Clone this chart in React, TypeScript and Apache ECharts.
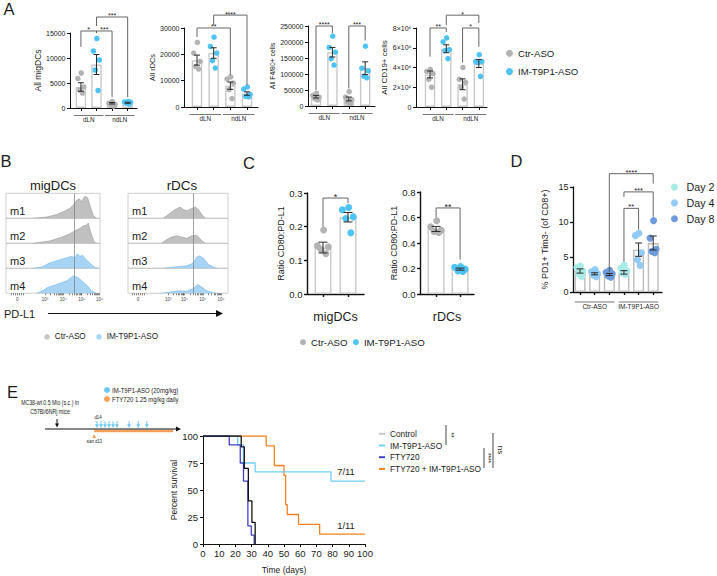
import React, { useEffect, useRef } from "react";
import * as echarts from "echarts";

const FONT = "'Liberation Sans', Arial, Helvetica, sans-serif";
const INK = "#1c1c1c";
const AXIS = "#111111";
const CTR_COLOR = "#b3b3b3";
const IM_COLOR = "#4ec3f4";
const BAR_EDGE = "#c9c9c9";
const HIST_GRAY = { fill: "#c0c0c0", line: "#9d9d9d" };
const HIST_BLUE = { fill: "#a7d4f5", line: "#79b9ea" };
const DAY_COLORS = ["#a9ebe7", "#92cbf6", "#6d9bdc"];

// ---------------- Panel A ----------------
const A_GROUPS = ["dLN", "ndLN"];
const TREATMENTS = ["Ctr-ASO", "IM-T9P1-ASO"];

const MIGDC_MEAN = [4200, 8700, 950, 1050];
const MIGDC_SEM = [850, 2000, 150, 100];
const MIGDC_PTS = [
  [7000, 5900, 4200, 3600, 3000],
  [13900, 11400, 9600, 7600, 3500],
  [1300, 950, 750, 600, 400],
  [1300, 1200, 1150, 950, 800],
];
const MIGDC_BRACKETS = [
  [0, 1, 15400, 12200, 15000, "*"],
  [1, 2, 15400, 15000, 2200, "***"],
  [1, 3, 18200, 16400, 2200, "***"],
];

const RDC_MEAN = [17800, 20500, 8100, 5100];
const RDC_SEM = [1900, 2000, 1400, 650];
const RDC_PTS = [
  [24500, 20500, 17300, 15400, 14400],
  [26500, 23000, 20500, 17600, 14800],
  [11400, 10600, 9100, 6600, 3200],
  [7600, 6800, 4700, 4000, 3800],
];
const RDC_BRACKETS = [
  [0, 2, 30000, 26600, 12200, "**"],
  [1, 3, 34900, 31100, 8400, "****"],
];

const F480_MEAN = [29000, 168000, 22000, 118000];
const F480_SEM = [4000, 15000, 6000, 20000];
const F480_PTS = [
  [40000, 33000, 28000, 23000, 19000],
  [218000, 183000, 168000, 148000, 128000],
  [45000, 28000, 20000, 12000, 8000],
  [187000, 118000, 110000, 93000, 88000],
];
const F480_BRACKETS = [
  [0, 1, 250000, 50000, 228000, "****"],
  [2, 3, 250000, 55000, 205000, "***"],
];

const CD19_MEAN = [3.3e6, 5.9e6, 2.3e6, 4.4e6];
const CD19_SEM = [0.35e6, 0.4e6, 0.55e6, 0.4e6];
const CD19_PTS = [
  [3.8e6, 3.6e6, 3.4e6, 2.8e6, 2.0e6],
  [7.0e6, 6.6e6, 5.8e6, 5.7e6, 4.9e6],
  [4.0e6, 2.8e6, 2.5e6, 2.0e6, 0.8e6],
  [5.3e6, 4.6e6, 4.6e6, 4.5e6, 3.1e6],
];
const CD19_BRACKETS = [
  [0, 1, 8.0e6, 5.1e6, 7.6e6, "**"],
  [1, 3, 9.3e6, 8.3e6, 8.5e6, "*"],
  [2, 3, 8.0e6, 4.5e6, 6.1e6, "*"],
];

// ---------------- Panel B (histograms, PD-L1 position 0..100 across box) ----------------
const HIST_SAMPLES = ["m1", "m2", "m3", "m4"];
const HIST_TREAT = [0, 0, 1, 1];
const LOG_LABELS = ["0", "10³", "10⁴", "10⁵", "10⁶"];
const MIG_M1 = [[29, 0], [43, 0.05], [54, 0.15], [63, 0.3], [68, 0.4], [72, 0.55], [75, 0.72], [78, 0.78], [80.5, 0.66], [83, 0.84], [85, 0.88], [87, 0.8], [89.5, 0.5], [93, 0.1], [96.5, 0]];
const MIG_M2 = [[29, 0], [47, 0.1], [57.4, 0.22], [66.3, 0.35], [73.4, 0.5], [78.7, 0.6], [82.3, 0.7], [85.1, 0.72], [87.6, 0.8], [90.1, 0.45], [93.6, 0.05], [96.5, 0]];
const MIG_M3 = [[29, 0], [37.9, 0.05], [46.8, 0.22], [55.7, 0.32], [64.5, 0.42], [69.9, 0.48], [73.4, 0.42], [75.9, 0.58], [78.7, 0.48], [81.6, 0.52], [85.1, 0.35], [89.4, 0.2], [94.7, 0.03], [98.2, 0]];
const MIG_M4 = [[32.6, 0], [39.7, 0.12], [45, 0.25], [50.4, 0.3], [55.7, 0.38], [61, 0.45], [64.5, 0.5], [68.8, 0.62], [71.6, 0.7], [77, 0.62], [82.3, 0.45], [86.5, 0.3], [91.1, 0.1], [96.5, 0]];
const RDC_M1 = [[35.2, 0], [40.3, 0.15], [47, 0.35], [52, 0.45], [55.4, 0.35], [59.4, 0.3], [63.8, 0.4], [67.1, 0.45], [70.5, 0.35], [73.8, 0.15], [77.2, 0]];
const RDC_M2 = [[33.6, 0], [38.6, 0.15], [43.6, 0.25], [48.7, 0.3], [53.7, 0.25], [58.7, 0.2], [63.8, 0.3], [68.8, 0.32], [73.8, 0.1], [77.2, 0]];
const RDC_M3 = [[35.2, 0], [45.3, 0.05], [58.7, 0.1], [64.8, 0.2], [68.8, 0.45], [71.5, 0.5], [75.5, 0.4], [80.5, 0.15], [85.6, 0.05], [88.9, 0]];
const RDC_M4 = [[31.9, 0], [41.9, 0.05], [50.3, 0.1], [58.7, 0.08], [65.4, 0.2], [69.8, 0.35], [73.8, 0.25], [78.9, 0.1], [85.6, 0.02], [90.6, 0]];
const MIG_GATE = 72.3;
const RDC_GATE = 65.4;
const MIG_TICK_POS = [12.1, 41.5, 61.0, 80.5, 99.3];
const RDC_TICK_POS = [10.1, 40.3, 56.4, 74.8, 93.0];

// ---------------- Panel C ----------------
const C_MIG_MEAN = [0.138, 0.228];
const C_MIG_SEM = [0.016, 0.014];
const C_MIG_PTS = [[0.19, 0.143, 0.14, 0.133, 0.12], [0.257, 0.25, 0.229, 0.224, 0.182]];
const C_MIG_BRACKETS = [[0, 1, 0.285, 0.2, 0.27, "*"]];
const C_RDC_MEAN = [0.51, 0.195];
const C_RDC_SEM = [0.02, 0.008];
const C_RDC_PTS = [[0.574, 0.527, 0.5, 0.49, 0.483], [0.215, 0.21, 0.195, 0.18, 0.177]];
const C_RDC_BRACKETS = [[0, 1, 0.675, 0.6, 0.27, "**"]];

// ---------------- Panel D ----------------
const D_DAYS = ["Day 2", "Day 4", "Day 8"];
const D_GROUPS = ["Ctr-ASO", "IM-T9P1-ASO"];
const D_MEAN = [3.0, 2.6, 2.5, 2.8, 6.05, 7.0];
const D_SEM = [0.3, 0.15, 0.15, 0.25, 0.95, 1.0];
const D_PTS = [
  [3.7, 3.5, 3.0, 2.6, 2.2],
  [3.2, 2.9, 2.6, 2.4, 2.2],
  [3.1, 2.8, 2.6, 2.3, 2.1],
  [3.8, 3.4, 3.0, 2.7, 2.5],
  [8.4, 8.05, 5.6, 4.6, 3.8],
  [10.2, 7.7, 6.1, 5.8, 5.6],
];
const D_BRACKETS = [
  [2, 5, 16.9, 2.9, 15.5, "****"],
  [3, 5, 14.3, 13.6, 10.75, "***"],
  [3, 4, 11.95, 4.3, 8.9, "**"],
];

// ---------------- Panel E (Kaplan-Meier) ----------------
const KM_CONTROL = [[0, 100], [23.6, 90], [25.5, 70], [28, 40], [30.2, 20], [32.2, 0]];
const KM_IM = [[0, 100], [21.4, 91.7], [25, 75], [32.2, 66.7], [79, 58.3], [100, 58.3]];
const KM_FTY = [[0, 100], [16.2, 91.7], [23, 75], [25, 58.3], [27.7, 16.7], [29.8, 8.3], [31.6, 0]];
const KM_COMBO = [[0, 100], [39, 90.9], [44, 72.7], [50, 63.6], [51, 36.4], [52, 27.3], [59, 18.2], [72, 9.1], [100, 9.1]];
const KM_NAMES = ["Control", "IM-T9P1-ASO", "FTY720", "FTY720 + IM-T9P1-ASO"];
const ASO_DAYS = [14, 15.4, 16.8, 18.2, 19.6, 21, 25.2, 28.4, 31.4];
const FTY_START = 13;
const FTY_END = 40.6;

const JITTER = [0.1, -0.9, 0.85, -0.35, 0.45];

function addBarPanel(s: any, acc: any) {
  const gi = acc.grid.length;
  acc.grid.push({ left: s.grid.left, top: s.grid.top, width: s.grid.width, height: s.grid.height });
  const line = { color: AXIS, width: s.axisWidth };
  acc.xAxis.push({
    gridIndex: gi, type: "value", min: s.xMin, max: s.xMax,
    axisLine: { show: true, onZero: false, lineStyle: line },
    axisTick: { show: true, customValues: s.means.map((_: number, i: number) => i), length: 3, lineStyle: line },
    axisLabel: { show: false }, splitLine: { show: false },
    name: s.xName || "", nameLocation: "middle", nameGap: s.xNameGap || 15,
    nameTextStyle: { fontSize: s.xNameSize || 10, color: INK, fontFamily: FONT },
  });
  acc.yAxis.push({
    gridIndex: gi, type: "value", min: 0, max: s.yMax, interval: s.yStep,
    axisLine: { show: true, onZero: false, lineStyle: line },
    axisTick: { show: true, length: 3, lineStyle: line },
    axisLabel: { fontSize: s.tickSize, color: INK, fontFamily: FONT, margin: 4.5, formatter: s.yFmt },
    splitLine: { show: false },
    name: s.yName, nameLocation: "middle", nameRotate: 90, nameGap: s.yNameGap,
    nameTextStyle: { fontSize: s.yNameSize, color: INK, fontFamily: FONT },
  });
  const ax = { xAxisIndex: gi, yAxisIndex: gi };
  acc.series.push({
    type: "bar", ...ax, data: s.means.map((m: number, i: number) => [i, m]), barWidth: s.barWidth,
    itemStyle: { color: "#ffffff", borderColor: s.barEdge || BAR_EDGE, borderWidth: 1.4 }, z: 1, silent: true,
  });
  s.pointSets.forEach((ps: any) =>
    acc.series.push({
      type: "scatter", name: ps.name, ...ax, symbol: "circle", symbolSize: s.dot,
      itemStyle: { color: ps.color, opacity: 1 },
      data: ps.bars.flatMap((b: number) => s.points[b].map((v: number, j: number) => [b + JITTER[j % JITTER.length] * s.jitter, v])),
      z: 2, silent: true,
    })
  );
  acc.series.push({
    type: "custom", ...ax, z: 4, silent: true, clip: false,
    data: s.means.map((m: number, i: number) => [i, m - s.sems[i], m + s.sems[i]]),
    renderItem: (params: any, api: any) => {
      const x = api.value(0);
      const lo = api.coord([x, api.value(1)]);
      const hi = api.coord([x, api.value(2)]);
      const w = s.cap / 2;
      const st = { stroke: "#2a2a2a", lineWidth: 1 };
      return {
        type: "group",
        children: [
          { type: "line", shape: { x1: lo[0], y1: lo[1], x2: hi[0], y2: hi[1] }, style: st },
          { type: "line", shape: { x1: lo[0] - w, y1: lo[1], x2: lo[0] + w, y2: lo[1] }, style: st },
          { type: "line", shape: { x1: hi[0] - w, y1: hi[1], x2: hi[0] + w, y2: hi[1] }, style: st },
        ],
      };
    },
  });
  acc.series.push({
    type: "custom", ...ax, z: 4, silent: true, clip: false,
    data: s.brackets.map((b: any[]) => [b[0], b[1], b[2], b[3], b[4]]),
    renderItem: (params: any, api: any) => {
      const a = api.value(0);
      const b = api.value(1);
      const top = api.value(2);
      const pa = api.coord([a, api.value(3)]);
      const pb = api.coord([b, api.value(4)]);
      const ta = api.coord([a, top]);
      const tb = api.coord([b, top]);
      return {
        type: "group",
        children: [
          {
            type: "polyline",
            shape: { points: [[pa[0], pa[1]], [ta[0], ta[1]], [tb[0], tb[1]], [pb[0], pb[1]]] },
            style: { stroke: "#555555", lineWidth: 0.9, fill: "none" },
          },
          {
            type: "text", x: (ta[0] + tb[0]) / 2, y: ta[1] + s.starSize * 0.35,
            style: { text: s.brackets[params.dataIndex][5], fontSize: s.starSize, fontFamily: FONT, fill: INK, align: "center", verticalAlign: "bottom" },
          },
        ],
      };
    },
  });
  if (s.groups) {
    acc.series.push({
      type: "custom", ...ax, z: 4, silent: true, clip: false,
      data: s.groups.map((g: any) => [g.from, g.to]),
      renderItem: (params: any, api: any) => {
        const p0 = api.coord([api.value(0) - s.groupPad, 0]);
        const p1 = api.coord([api.value(1) + s.groupPad, 0]);
        const ly = p0[1] + s.groupOff;
        return {
          type: "group",
          children: [
            { type: "line", shape: { x1: p0[0], y1: ly, x2: p1[0], y2: ly }, style: { stroke: "#555555", lineWidth: 0.8 } },
            {
              type: "text", x: (p0[0] + p1[0]) / 2, y: ly + 1,
              style: { text: s.groups[params.dataIndex].label, fontSize: s.groupSize, fontFamily: FONT, fill: INK, align: "center", verticalAlign: "top" },
            },
          ],
        };
      },
    });
  }
}

function decadeTicks(pos: number[]) {
  const t = [...pos, pos[0] - 6, pos[0] - 4, pos[0] - 2, pos[0] + 2, pos[0] + 4, pos[0] + 6];
  for (let d = 1; d < pos.length - 1; d++) {
    for (let k = 2; k < 10; k++) t.push(pos[d] + Math.log10(k) * (pos[d + 1] - pos[d]));
  }
  return t;
}

function buildOption() {
  const acc: any = { grid: [], xAxis: [], yAxis: [], series: [] };
  const plain = (v: number) => String(v);

  // ----- A -----
  const aCommon = {
    tickSize: 7, axisWidth: 1, barWidth: 10.5, dot: 5.5, cap: 6, starSize: 7, jitter: 0.22,
    groupOff: 7.5, groupSize: 6.3, groupPad: 0.45,
  };
  const aSets = [
    { name: TREATMENTS[0], color: CTR_COLOR, bars: [0, 2] },
    { name: TREATMENTS[1], color: IM_COLOR, bars: [1, 3] },
  ];
  const aGroups = A_GROUPS.map((label, i) => ({ label, from: 2 * i, to: 2 * i + 1 }));
  addBarPanel({ ...aCommon, grid: { left: 70, top: 33, width: 67, height: 75 }, xMin: -0.7, xMax: 3.6, yMax: 15000, yStep: 5000, yFmt: plain, yName: "All migDCs", yNameGap: 24, yNameSize: 8.5, means: MIGDC_MEAN, sems: MIGDC_SEM, points: MIGDC_PTS, pointSets: aSets, brackets: MIGDC_BRACKETS, groups: aGroups }, acc);
  addBarPanel({ ...aCommon, grid: { left: 184, top: 28, width: 74, height: 79 }, xMin: -0.78, xMax: 3.66, yMax: 30000, yStep: 10000, yFmt: plain, yName: "All rDCs", yNameGap: 28, yNameSize: 7.3, means: RDC_MEAN, sems: RDC_SEM, points: RDC_PTS, pointSets: aSets, brackets: RDC_BRACKETS, groups: aGroups }, acc);
  addBarPanel({ ...aCommon, grid: { left: 308, top: 26, width: 67, height: 80 }, xMin: -0.49, xMax: 3.6, yMax: 250000, yStep: 50000, yFmt: plain, yName: "All F4/80+ cells", yNameGap: 32, yNameSize: 6.8, means: F480_MEAN, sems: F480_SEM, points: F480_PTS, pointSets: aSets, brackets: F480_BRACKETS, groups: aGroups }, acc);
  addBarPanel({ ...aCommon, grid: { left: 416, top: 28, width: 71, height: 79 }, xMin: -0.86, xMax: 3.5, yMax: 8e6, yStep: 2e6, yFmt: (v: number) => (v === 0 ? "0" : `${v / 1e6}×10⁶`), yName: "All CD19+ cells", yNameGap: 22, yNameSize: 8, means: CD19_MEAN, sems: CD19_SEM, points: CD19_PTS, pointSets: aSets, brackets: CD19_BRACKETS, groups: aGroups }, acc);

  // ----- B -----
  const boxes = [
    { left: 6, width: 94, rows: [MIG_M1, MIG_M2, MIG_M3, MIG_M4], gate: MIG_GATE, labelAt: MIG_TICK_POS },
    { left: 128, width: 100, rows: [RDC_M1, RDC_M2, RDC_M3, RDC_M4], gate: RDC_GATE, labelAt: RDC_TICK_POS },
  ];
  const HIST_TOP = 193.3;
  const HIST_ROW_H = 25;
  boxes.forEach((box) => {
    box.rows.forEach((row, k) => {
      const gi = acc.grid.length;
      const top = HIST_TOP + k * HIST_ROW_H;
      const last = k === 3;
      acc.grid.push({ left: box.left, top, width: box.width, height: HIST_ROW_H, show: true, borderColor: "#c4c4c4", borderWidth: 0.8 });
      acc.xAxis.push({
        gridIndex: gi, type: "value", min: 0, max: 100,
        axisLine: { show: false },
        axisTick: { show: last, customValues: decadeTicks(box.labelAt), length: 2, lineStyle: { color: "#333", width: 0.6 } },
        axisLabel: {
          show: last, customValues: box.labelAt, fontSize: 4.5, color: "#444", margin: 3.5, fontFamily: FONT,
          formatter: (v: number) => {
            const i = box.labelAt.findIndex((p) => Math.abs(p - v) < 0.01);
            return i >= 0 ? LOG_LABELS[i] : "";
          },
        },
        splitLine: { show: false },
      });
      acc.yAxis.push({ gridIndex: gi, type: "value", min: 0, max: 1, show: false });
      const col = HIST_TREAT[k] === 0 ? HIST_GRAY : HIST_BLUE;
      acc.series.push({
        type: "line", xAxisIndex: gi, yAxisIndex: gi, data: row, showSymbol: false, symbol: "none",
        lineStyle: { color: col.line, width: 0.6 }, areaStyle: { color: col.fill, opacity: 1 }, silent: true, z: 1,
        markLine: { silent: true, symbol: "none", label: { show: false }, lineStyle: { color: "#7a7a7a", width: 0.7, type: "solid" }, data: [{ xAxis: box.gate }] },
      });
    });
  });

  // ----- C -----
  const cCommon = {
    tickSize: 9.5, axisWidth: 1.4, barWidth: 17, dot: 7, cap: 9, starSize: 9, jitter: 0.25,
    yName: "Ratio CD80:PD-L1", yNameGap: 22, yNameSize: 9, xNameGap: 16.5, xNameSize: 12.5,
    pointSets: [
      { name: TREATMENTS[0], color: CTR_COLOR, bars: [0] },
      { name: TREATMENTS[1], color: IM_COLOR, bars: [1] },
    ],
    yFmt: (v: number) => v.toFixed(1),
  };
  addBarPanel({ ...cCommon, grid: { left: 307, top: 193, width: 57, height: 101 }, xMin: -0.64, xMax: 1.64, yMax: 0.3, yStep: 0.1, means: C_MIG_MEAN, sems: C_MIG_SEM, points: C_MIG_PTS, brackets: C_MIG_BRACKETS, xName: "migDCs" }, acc);
  addBarPanel({ ...cCommon, grid: { left: 420, top: 192, width: 54, height: 102 }, xMin: -0.67, xMax: 1.58, yMax: 0.8, yStep: 0.2, means: C_RDC_MEAN, sems: C_RDC_SEM, points: C_RDC_PTS, brackets: C_RDC_BRACKETS, xName: "rDCs" }, acc);

  // ----- D -----
  addBarPanel({
    tickSize: 9, axisWidth: 1.3, barWidth: 11, dot: 7, cap: 7, starSize: 7.5, jitter: 0.24,
    groupOff: 10, groupSize: 6.5, groupPad: 0.35, barEdge: "#bdbdbd",
    grid: { left: 573, top: 187, width: 89, height: 105 }, xMin: -0.48, xMax: 5.6, yMax: 15, yStep: 5,
    yName: "% PD1+ Tim3- (of CD8+)", yNameGap: 24, yNameSize: 9,
    means: D_MEAN, sems: D_SEM, points: D_PTS, brackets: D_BRACKETS,
    pointSets: D_DAYS.map((name, i) => ({ name, color: DAY_COLORS[i], bars: [i, i + 3] })),
    groups: D_GROUPS.map((label, i) => ({ label, from: 3 * i, to: 3 * i + 2 })),
  }, acc);

  // ----- E -----
  const gi = acc.grid.length;
  acc.grid.push({ left: 203, top: 436, width: 162, height: 108 });
  const kmLine = { color: AXIS, width: 1 };
  acc.xAxis.push({
    gridIndex: gi, type: "value", min: 0, max: 100, interval: 10,
    axisLine: { show: true, onZero: false, lineStyle: kmLine }, axisTick: { show: true, length: 3, lineStyle: kmLine },
    axisLabel: { fontSize: 9.5, color: INK, margin: 4.5, fontFamily: FONT }, splitLine: { show: false },
    name: "Time (days)", nameLocation: "middle", nameGap: 21.5, nameTextStyle: { fontSize: 8.5, color: INK, fontFamily: FONT },
  });
  acc.yAxis.push({
    gridIndex: gi, type: "value", min: 0, max: 100, interval: 25,
    axisLine: { show: true, onZero: false, lineStyle: kmLine }, axisTick: { show: true, length: 3, lineStyle: kmLine },
    axisLabel: { fontSize: 9.5, color: INK, margin: 5, fontFamily: FONT }, splitLine: { show: false },
    name: "Percent survival", nameLocation: "middle", nameRotate: 90, nameGap: 21, nameTextStyle: { fontSize: 8.5, color: INK, fontFamily: FONT },
  });
  const kmSeries = [
    { name: KM_NAMES[3], data: KM_COMBO, color: "#f5821f", z: 2 },
    { name: KM_NAMES[1], data: KM_IM, color: "#72cdf4", z: 3 },
    { name: KM_NAMES[2], data: KM_FTY, color: "#4040c4", z: 4 },
    { name: KM_NAMES[0], data: KM_CONTROL, color: "#111111", z: 5 },
  ];
  kmSeries.forEach((k) =>
    acc.series.push({
      type: "line", name: k.name, xAxisIndex: gi, yAxisIndex: gi, step: "end", data: k.data,
      showSymbol: false, symbol: "none", lineStyle: { color: k.color, width: 1.3 }, silent: true, z: k.z,
    })
  );

  // ----- legends -----
  const legText = (size: number) => ({ fontSize: size, color: INK, fontFamily: FONT });
  const legend = [
    { orient: "vertical", left: 501, top: 43.2, icon: "circle", itemWidth: 7, itemHeight: 7, itemGap: 8.4, selectedMode: false, textStyle: legText(9.6),
      data: [{ name: TREATMENTS[0], itemStyle: { color: CTR_COLOR } }, { name: TREATMENTS[1], itemStyle: { color: IM_COLOR } }] },
    { orient: "horizontal", left: 39.3, top: 327.9, icon: "circle", itemWidth: 5.5, itemHeight: 5.5, itemGap: 10.5, selectedMode: false, textStyle: legText(8.2),
      data: [{ name: TREATMENTS[0], itemStyle: { color: "#c6c6c6" } }, { name: TREATMENTS[1], itemStyle: { color: "#a9d6f7" } }] },
    { orient: "horizontal", left: 295, top: 332.2, icon: "circle", itemWidth: 6, itemHeight: 6, itemGap: 5.3, selectedMode: false, textStyle: legText(9.7),
      data: [{ name: TREATMENTS[0], itemStyle: { color: CTR_COLOR } }, { name: TREATMENTS[1], itemStyle: { color: IM_COLOR } }] },
    { orient: "vertical", left: 666, top: 176.6, icon: "circle", itemWidth: 14, itemHeight: 7, itemGap: 4.8, selectedMode: false, textStyle: legText(10.7),
      data: D_DAYS.map((name, i) => ({ name, itemStyle: { color: DAY_COLORS[i] } })) },
    { orient: "vertical", left: 374, top: 424.8, icon: "rect", itemWidth: 6, itemHeight: 2, itemGap: 3.7, selectedMode: false, textStyle: legText(8.3),
      data: [
        { name: KM_NAMES[0], itemStyle: { color: "#c9c9c9" } },
        { name: KM_NAMES[1], itemStyle: { color: "#72cff5" } },
        { name: KM_NAMES[2], itemStyle: { color: "#4343c4" } },
        { name: KM_NAMES[3], itemStyle: { color: "#f5821f" } },
      ] },
  ];

  // ----- graphics -----
  const T = (text: string, x: number, y: number, size: number, extra: any = {}, el: any = {}) => ({
    type: "text", x, y, silent: true, ...el,
    style: { text, fontSize: size, fontFamily: FONT, fill: INK, textAlign: "left", textVerticalAlign: "middle", ...extra },
  });
  const graphic: any[] = [];
  [["A", 9, 9.3], ["B", 6, 161], ["C", 249, 162.5], ["D", 516.5, 161], ["E", 12.5, 391.5]].forEach(([t, x, y]: any) =>
    graphic.push(T(t, x, y, 16.5, { textAlign: "center" }))
  );
  graphic.push(T("migDCs", 53, 185, 13, { textAlign: "center" }));
  graphic.push(T("rDCs", 182, 185, 13.5, { textAlign: "center" }));
  boxes.forEach((box) => HIST_SAMPLES.forEach((m, k) => graphic.push(T(m, box.left + 4, HIST_TOP + k * HIST_ROW_H + 18, 11))));
  graphic.push(T("PD-L1", 4, 313.8, 11));
  graphic.push({ type: "line", silent: true, shape: { x1: 48, y1: 313.5, x2: 218, y2: 313.5 }, style: { stroke: "#111", lineWidth: 1 } });
  graphic.push({ type: "polygon", silent: true, shape: { points: [[216, 310], [223, 313.5], [216, 317]] }, style: { fill: "#111" } });

  // E schematic
  const tx = (day: number) => 57 + day * 2.86;
  const narrow = (text: string, x: number, y: number, size: number, align = "left") =>
    T(text, x, y, size, { textAlign: align, fill: "#222" }, { scaleX: 0.8 });
  graphic.push({ type: "circle", silent: true, shape: { cx: 107, cy: 390, r: 3 }, style: { fill: "#6cc8f2" } });
  graphic.push(narrow("IM-T9P1-ASO (20mg/kg)", 112, 390.5, 7.5));
  graphic.push({ type: "circle", silent: true, shape: { cx: 107, cy: 399, r: 3 }, style: { fill: "#f5a05a" } });
  graphic.push(narrow("FTY720 1.25 mg/kg daily", 112, 399.5, 7.5));
  graphic.push(narrow("MC38-wt 0.5 Mio (s.c.) in", 50, 403, 6.5, "center"));
  graphic.push(narrow("C57Bl/6NRj mice", 50, 412, 6.5, "center"));
  graphic.push(narrow("d14", tx(14) + 1, 416.5, 5.5, "center"));
  graphic.push({ type: "line", silent: true, shape: { x1: tx(0), y1: 419, x2: tx(0), y2: 424 }, style: { stroke: "#111", lineWidth: 1 } });
  graphic.push({ type: "polygon", silent: true, shape: { points: [[tx(0) - 2, 423.5], [tx(0) + 2, 423.5], [tx(0), 427.5]] }, style: { fill: "#111" } });
  ASO_DAYS.forEach((d) => {
    const x = tx(d);
    graphic.push({ type: "line", silent: true, shape: { x1: x, y1: 421, x2: x, y2: 425 }, style: { stroke: "#6cc8f2", lineWidth: 1 } });
    graphic.push({ type: "polygon", silent: true, shape: { points: [[x - 1.9, 424.3], [x + 1.9, 424.3], [x, 428]] }, style: { fill: "#6cc8f2" } });
  });
  graphic.push({ type: "line", silent: true, shape: { x1: tx(FTY_START), y1: 431, x2: tx(FTY_END), y2: 431 }, style: { stroke: "#f5a05a", lineWidth: 2.5 } });
  graphic.push({ type: "line", silent: true, shape: { x1: 45, y1: 429, x2: 177, y2: 429 }, style: { stroke: "#111", lineWidth: 1 } });
  graphic.push({ type: "polygon", silent: true, shape: { points: [[176, 426.5], [181, 429], [176, 431.5]] }, style: { fill: "#111" } });
  graphic.push({ type: "polygon", silent: true, shape: { points: [[tx(FTY_START) - 2, 438], [tx(FTY_START) + 2, 438], [tx(FTY_START), 434]] }, style: { fill: "#f5a05a" } });
  graphic.push(narrow("start d13", tx(FTY_START), 441.5, 5, "center"));

  // E curve annotations and stats
  graphic.push(T("7/11", 346, 471.5, 9.4, { textAlign: "center" }));
  graphic.push(T("1/11", 346, 525, 9.4, { textAlign: "center" }));
  const vline = (x: number, y1: number, y2: number) => ({ type: "line", silent: true, shape: { x1: x, y1, x2: x, y2 }, style: { stroke: "#333", lineWidth: 0.9 } });
  graphic.push(vline(446, 425, 445));
  graphic.push(T("**", 451, 435, 6.5, { textAlign: "center" }, { rotation: -Math.PI / 2 }));
  graphic.push(vline(484, 448, 468));
  graphic.push(T("****", 488, 458, 6.5, { textAlign: "center" }, { rotation: -Math.PI / 2 }));
  graphic.push(vline(493, 433, 468));
  graphic.push(T("ns", 500, 450, 8, { textAlign: "center" }, { rotation: -Math.PI / 2 }));

  return {
    animation: false,
    backgroundColor: "#ffffff",
    textStyle: { fontFamily: FONT },
    grid: acc.grid,
    xAxis: acc.xAxis,
    yAxis: acc.yAxis,
    series: acc.series,
    legend,
    graphic,
  };
}

export default function App() {
  const ref = useRef<HTMLDivElement>(null);
  useEffect(() => {
    const chart = echarts.init(ref.current as HTMLDivElement, null, { renderer: "svg" });
    chart.setOption(buildOption() as any);
    return () => chart.dispose();
  }, []);
  return <div ref={ref} style={{ position: "absolute", left: 0, top: 0, width: 717, height: 576, background: "#fff" }} />;
}
